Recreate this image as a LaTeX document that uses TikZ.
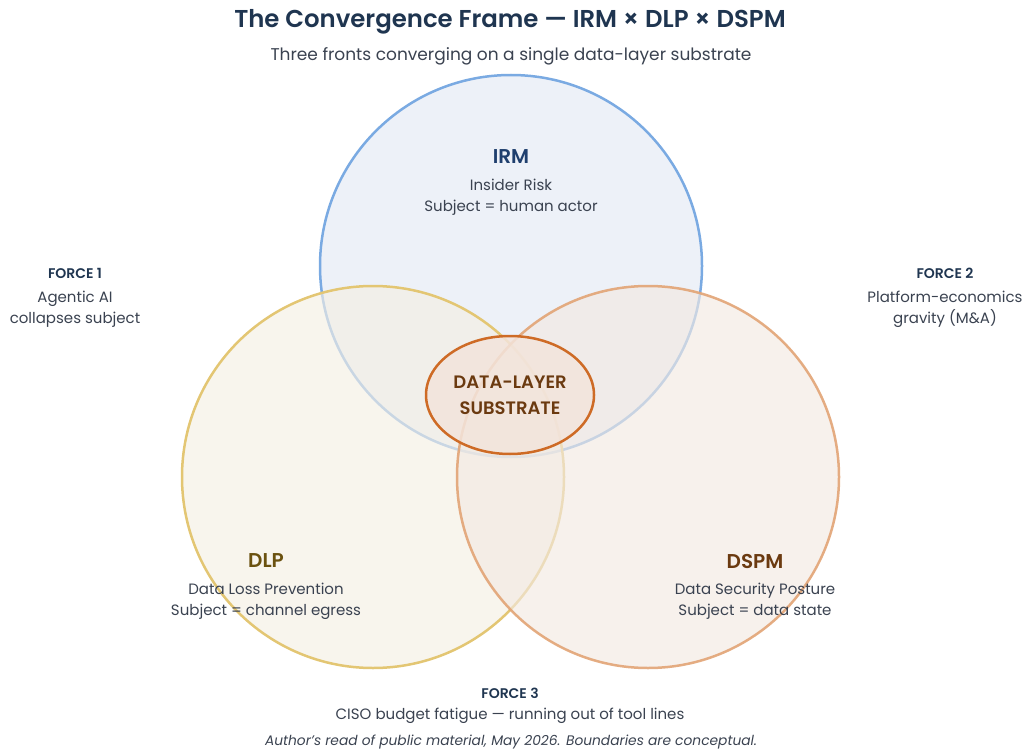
\documentclass[tikz,border=0pt]{standalone}
\usepackage{fontspec}
\setmainfont{Poppins}[BoldFont={Poppins SemiBold}, BoldItalicFont={Poppins SemiBold Italic}]
\usepackage{tikz}
\usetikzlibrary{shapes.geometric}

\definecolor{titleink}{HTML}{1F3550}
\definecolor{bodyink}{HTML}{3A4250}
\definecolor{irmline}{HTML}{7AAAE2}
\definecolor{irmfill}{HTML}{EDF1F8}
\definecolor{irmink}{HTML}{1F3F6E}
\definecolor{dlpline}{HTML}{E3C673}
\definecolor{dlpfill}{HTML}{F4EFE4}
\definecolor{dlpink}{HTML}{6B5210}
\definecolor{dspmline}{HTML}{E2A475}
\definecolor{dspmfill}{HTML}{F2E9E2}
\definecolor{dspmink}{HTML}{6B3A10}
\definecolor{coreline}{HTML}{CE6B26}
\definecolor{corefill}{HTML}{F3E4DB}

\tikzset{
	heading/.style={font=\fontsize{14}{16}\selectfont\bfseries, text=titleink},
	body/.style={font=\fontsize{15}{21}\selectfont, text=bodyink, align=center},
	setname/.style={font=\fontsize{20}{24}\selectfont\bfseries},
	ring/.style={line width=2.5pt},
}

\begin{document}
\begin{tikzpicture}[x=1pt,y=-1pt]

	% ---- parameters

	\def\radius{191pt}

	\useasboundingbox (0,0) rectangle (1024,751);

	% ---- centres

	\coordinate (irm) at (511,266);
	\coordinate (dlp) at (373,477);
	\coordinate (dspm) at (648,477);

	% ---- circles, each one laid over the last

	\filldraw[ring, draw=irmline, fill=irmfill] (irm) circle[radius=\radius];
	\fill[dlpfill, fill opacity=0.65] (dlp) circle[radius=\radius];
	\draw[ring, dlpline] (dlp) circle[radius=\radius];
	\fill[dspmfill, fill opacity=0.65] (dspm) circle[radius=\radius];
	\draw[ring, dspmline, draw opacity=0.9] (dspm) circle[radius=\radius];

	% ---- core

	\node[ellipse, draw=coreline, line width=2.5pt, fill=corefill, fill opacity=0.85,
		text opacity=1, minimum width=168pt, minimum height=118pt, inner sep=0pt,
		align=center, text=dspmink, font=\fontsize{18}{26}\selectfont\bfseries]
		(core) at (510,395) {DATA-LAYER\\SUBSTRATE};

	% ---- titles

	\node[font=\fontsize{24.4}{28}\selectfont\bfseries, text=titleink] (title) at (510,22)
		{The Convergence Frame — IRM × DLP × DSPM};
	\node[font=\fontsize{17}{20}\selectfont, text=bodyink] (subtitle) at (511,56)
		{Three fronts converging on a single data-layer substrate};

	% ---- set labels

	\node[setname, text=irmink] (irmname) at (511,157) {IRM};
	\node[body] (irmtext) at (511,197) {Insider Risk\\Subject = human actor};

	\node[setname, text=dlpink] (dlpname) at (266,561) {DLP};
	\node[body] (dlptext) at (266,601) {Data Loss Prevention\\Subject = channel egress};

	\node[setname, text=dspmink] (dspmname) at (755,561) {DSPM};
	\node[body] (dspmtext) at (755,601) {Data Security Posture\\Subject = data state};

	% ---- forces

	\node[heading] (force1) at (75,273) {FORCE 1};
	\node[body] (force1text) at (75,309) {Agentic AI\\collapses subject};

	\node[heading] (force2) at (945,273) {FORCE 2};
	\node[body] (force2text) at (945,309) {Platform-economics\\gravity (M\&A)};

	\node[heading] (force3) at (510,693) {FORCE 3};
	\node[body] (force3text) at (510,716) {CISO budget fatigue — running out of tool lines};

	% ---- footnote

	\node[font=\fontsize{13.8}{16}\selectfont\itshape, text=bodyink] (note) at (511,742)
		{Author’s read of public material, May 2026. Boundaries are conceptual.};

\end{tikzpicture}
\end{document}
